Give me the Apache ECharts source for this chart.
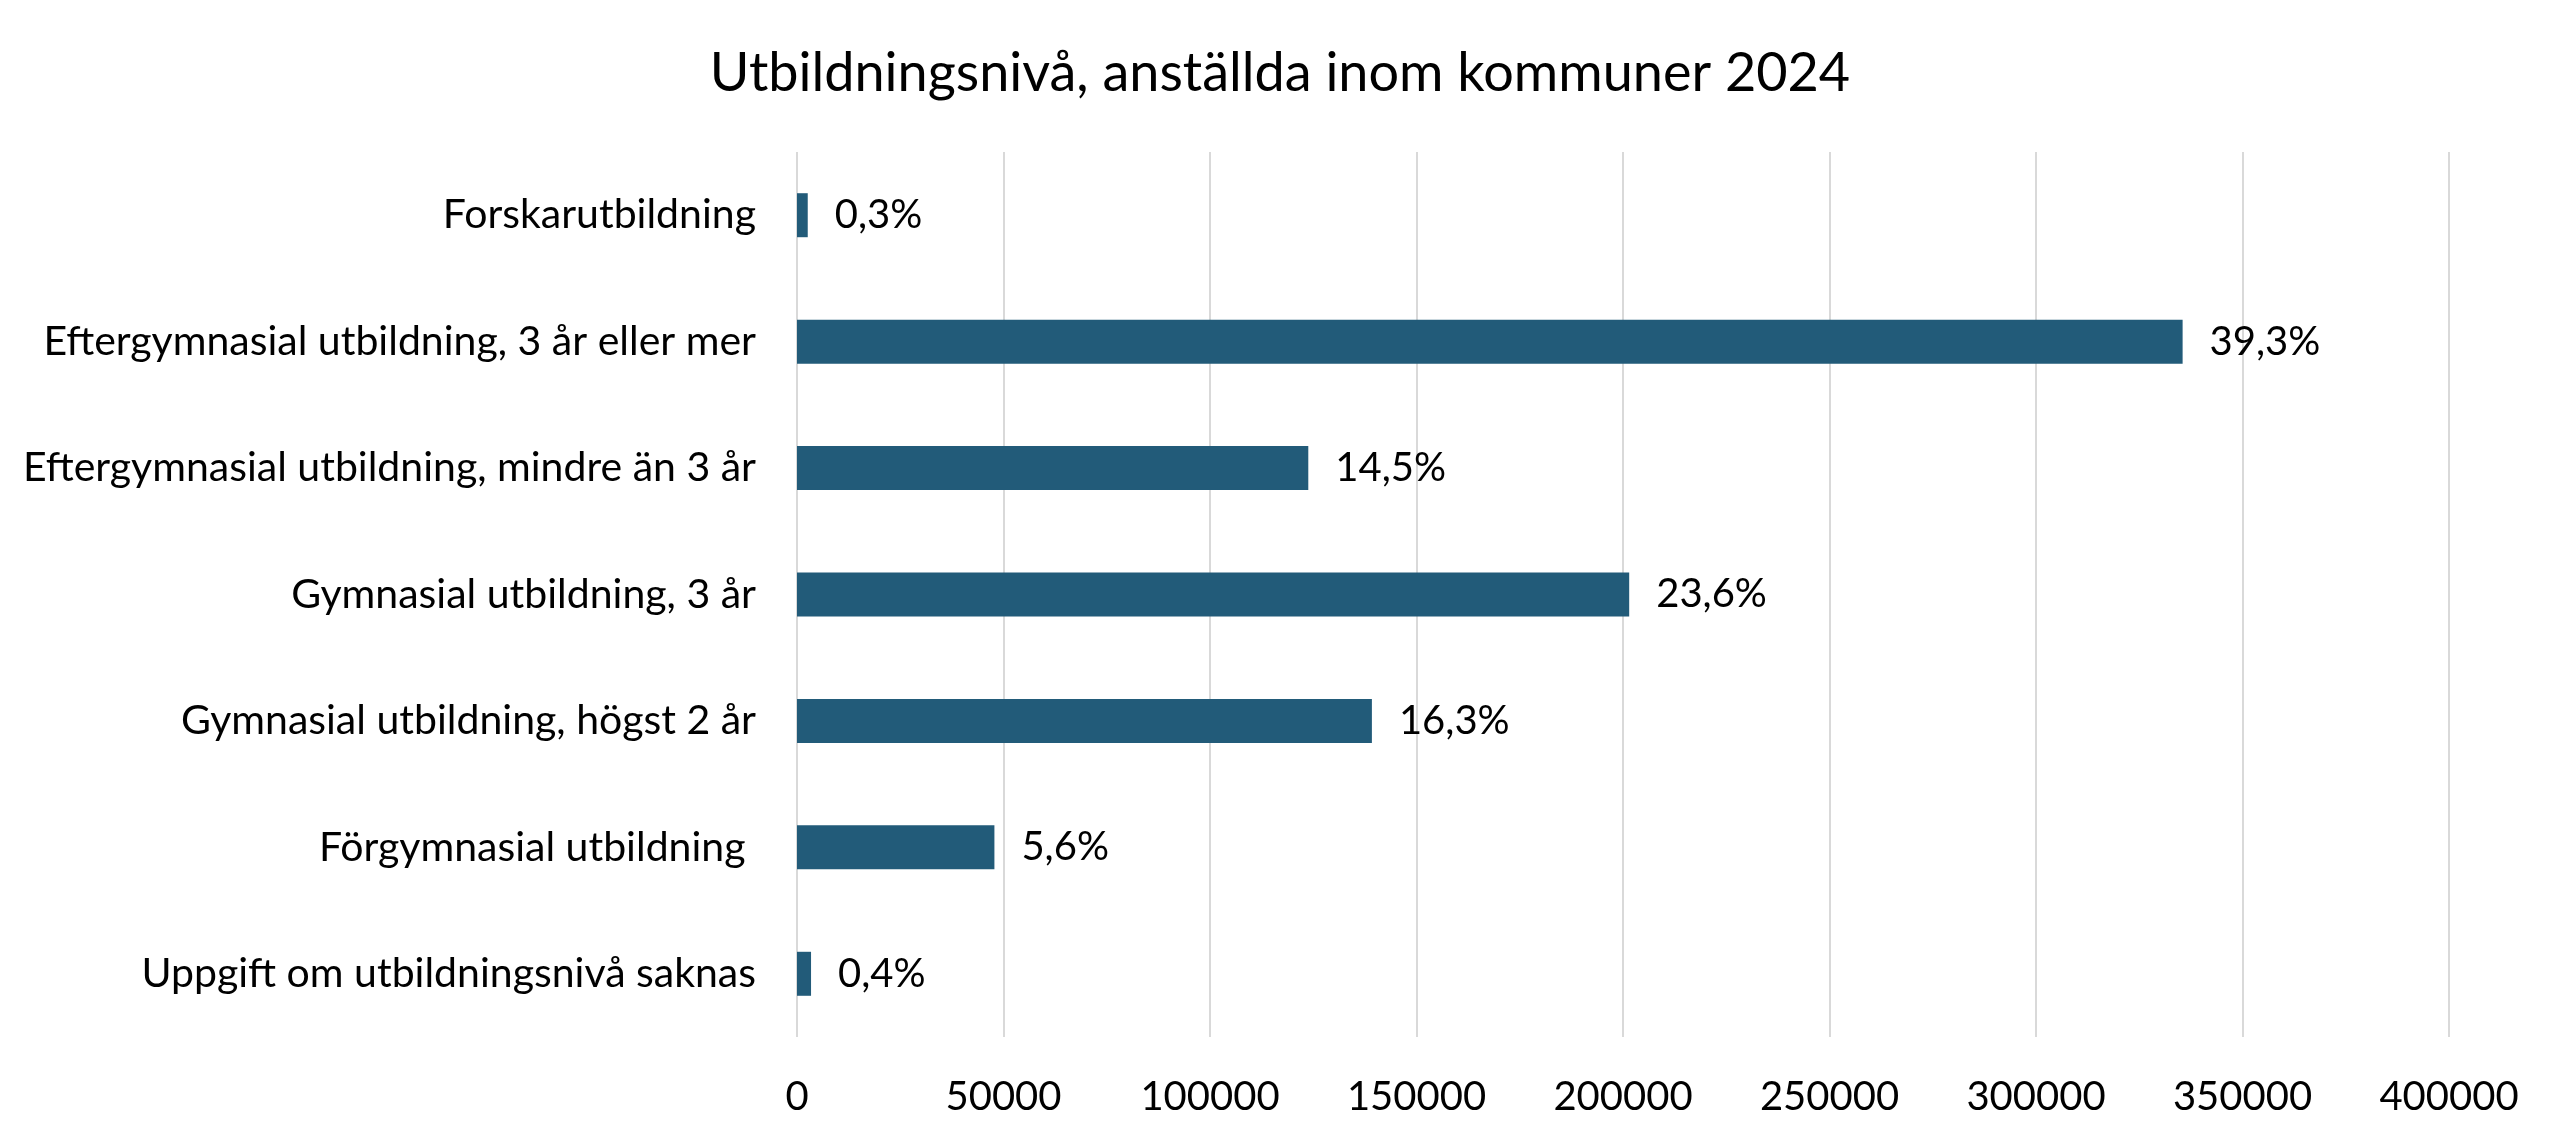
<!DOCTYPE html>
<html>
<head>
<meta charset="utf-8">
<script src="https://cdn.jsdelivr.net/npm/echarts@6/dist/echarts.min.js"></script>
<style>html,body{margin:0;padding:0;background:#fff}#c{width:2560px;height:1146px}</style>
</head>
<body>
<div id="c"></div>
<script>
const title = 'Utbildningsnivå, anställda inom kommuner 2024';
const categories = [
  'Forskarutbildning',
  'Eftergymnasial utbildning, 3 år eller mer',
  'Eftergymnasial utbildning, mindre än 3 år',
  'Gymnasial utbildning, 3 år',
  'Gymnasial utbildning, högst 2 år',
  'Förgymnasial utbildning ',
  'Uppgift om utbildningsnivå saknas'
];
const values = [2600, 335500, 123800, 201500, 139200, 47800, 3400];
const percentLabels = ['0,3%', '39,3%', '14,5%', '23,6%', '16,3%', '5,6%', '0,4%'];
const axisMin = 0, axisMax = 400000, axisStep = 50000;

const FONT = 'Lato';
const chart = echarts.init(document.getElementById('c'), null, {renderer: 'canvas'});
chart.setOption({
  animation: false,
  backgroundColor: '#ffffff',
  title: {
    text: title, left: 'center', top: 42,
    textStyle: {fontFamily: FONT, fontSize: 54, fontWeight: 'normal', color: '#000'}
  },
  grid: {left: 797, right: 111, top: 152, bottom: 109, containLabel: false},
  xAxis: {
    type: 'value', min: axisMin, max: axisMax, interval: axisStep,
    axisLine: {show: false}, axisTick: {show: false},
    axisLabel: {fontFamily: FONT, fontSize: 40, color: '#000', margin: 40,
      formatter: v => String(v)},
    splitLine: {show: true, lineStyle: {color: '#d9d9d9', width: 2}}
  },
  yAxis: {
    type: 'category', data: categories, inverse: true,
    axisLine: {show: false}, axisTick: {show: false},
    axisLabel: {fontFamily: FONT, fontSize: 41, color: '#000', margin: 41}
  },
  series: [{
    type: 'bar', data: values, barWidth: 44,
    itemStyle: {color: '#225b79'},
    label: {
      show: true, position: 'right', distance: 27,
      fontFamily: FONT, fontSize: 40, color: '#000',
      formatter: p => percentLabels[p.dataIndex]
    }
  }]
});
</script>
</body>
</html>
